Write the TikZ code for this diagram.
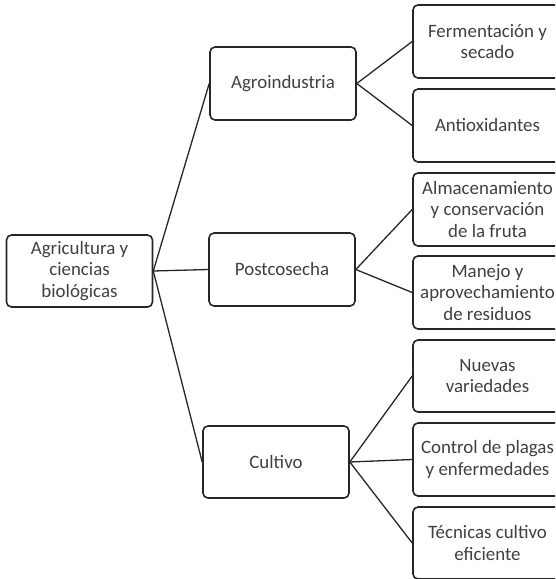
\documentclass[tikz,border=0pt]{standalone}
\usepackage{fontspec}
\setmainfont{Carlito}
\definecolor{linec}{HTML}{262626}
\definecolor{textc}{HTML}{404040}
\tikzset{
  box/.style={draw=linec, line width=1.6pt, rounded corners=5pt, fill=white,
    text=textc, align=center, inner sep=0pt, minimum width=146pt, minimum height=73pt,
    font=\fontsize{18.9}{21.7}\selectfont},
  leaf/.style={box, minimum width=149pt},
  conn/.style={draw=linec, line width=1.3pt}
}
\begin{document}
\begin{tikzpicture}[x=1pt,y=-1pt]
\useasboundingbox (0,0) rectangle (555,579);
\clip (0,0) rectangle (555,579);
\node[box, minimum height=72pt] (root) at (79.5,271) {Agricultura y\\ciencias\\biológicas};
\node[box] (agro) at (283,83.5) {Agroindustria};
\node[box] (post) at (282,269.5) {Postcosecha};
\node[box, minimum height=72pt] (cult) at (276,462) {Cultivo};
\node[leaf] (ferm) at (487.5,41.5) {Fermentación y\\secado};
\node[leaf] (anti) at (487.5,125.5) {Antioxidantes};
\node[leaf] (alma) at (487.5,209.5) {Almacenamiento\\y conservación\\de la fruta};
\node[leaf] (mane) at (487.5,292.5) {Manejo y\\aprovechamiento\\de residuos};
\node[leaf, minimum height=72pt] (nuev) at (487.5,376) {Nuevas\\variedades};
\node[leaf] (cont) at (487.5,459.5) {Control de plagas\\y enfermedades};
\node[leaf, minimum height=72pt] (tecn) at (487.5,543) {Técnicas cultivo\\eficiente};
\draw[conn] (root.east) -- (agro.west);
\draw[conn] (root.east) -- (post.west);
\draw[conn] (root.east) -- (cult.west);
\draw[conn] (agro.east) -- (ferm.west);
\draw[conn] (agro.east) -- (anti.west);
\draw[conn] (post.east) -- (alma.west);
\draw[conn] (post.east) -- (mane.west);
\draw[conn] (cult.east) -- (nuev.west);
\draw[conn] (cult.east) -- (cont.west);
\draw[conn] (cult.east) -- (tecn.west);
\end{tikzpicture}
\end{document}
